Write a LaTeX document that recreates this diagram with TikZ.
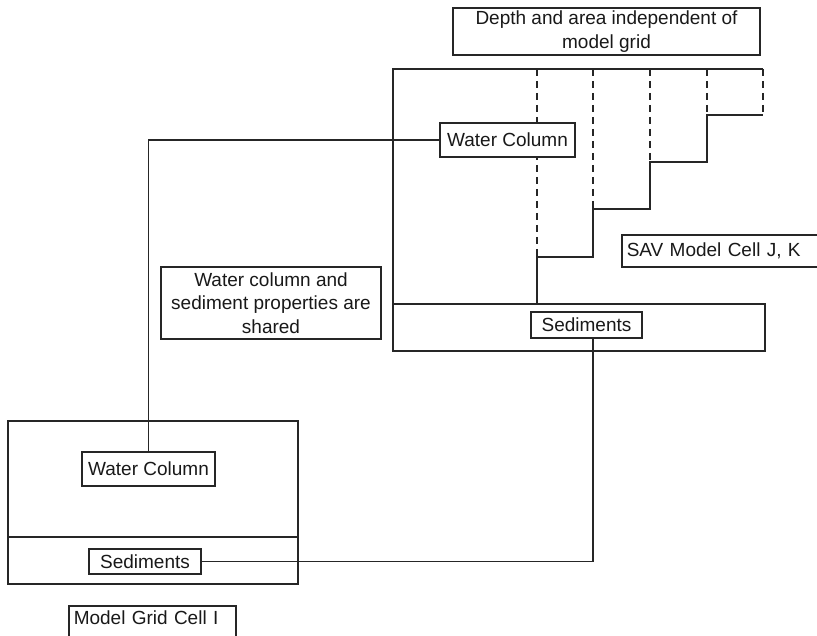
\documentclass[tikz,border=0pt]{standalone}
\usepackage{fontspec}
\setmainfont{Liberation Sans}
\usepackage{tikz}

\tikzset{
  cellbox/.style={draw,fill=white,inner sep=0pt,align=center},
  dashline/.style={dash pattern=on 7pt off 5pt}
}

\begin{document}
\begin{tikzpicture}[x=1pt,y=-1pt,line width=1.5pt,draw=black!85,
    every node/.style={font=\fontsize{19}{23.5}\selectfont,text=black!90}]
  \useasboundingbox (0,0) rectangle (817,636);
  \clip (0,0) rectangle (817,636);

  % SAV cell frame and the stepped depth profile
  \draw (393,304)
  -- (393,69)
  -- (763,69);
  \foreach \x/\y in {537/257,593/209,650/162,707/115,763/115}
    \draw[dashline] (\x,69) -- (\x,\y);
  \draw (537,304)
  -- (537,257)
  -- (593,257)
  -- (593,209)
  -- (650,209)
  -- (650,162)
  -- (707,162)
  -- (707,115)
  -- (763,115);
  \draw (393,304) rectangle (765,351);

  % model grid cell
  \draw (8,421) rectangle (298,584);
  \draw (8,537) -- (298,537);

  \node[cellbox,minimum width=307pt,minimum height=47pt] (depth) at (606.5,31.5)
    {Depth and area independent of\\model grid};
  \node[cellbox,minimum width=135pt,minimum height=34pt] (wcsav) at (507.5,140) {Water Column};
  \node[cellbox,minimum width=111pt,minimum height=26pt] (sedsav) at (586.5,325) {Sediments};
  \node[cellbox,anchor=west,text width=230pt,align=left,inner xsep=5pt,minimum height=32pt]
    (savcell) at (621,251) {SAV Model Cell J, K};
  \node[cellbox,minimum width=220pt,minimum height=72pt] (shared) at (271,303)
    {Water column and\\sediment properties are\\shared};
  \node[cellbox,minimum width=133pt,minimum height=34pt] (wcgrid) at (148.5,469) {Water Column};
  \node[cellbox,minimum width=112pt,minimum height=25pt] (sedgrid) at (145,561.5) {Sediments};
  \node[cellbox,anchor=north west,text width=157pt,align=left,inner xsep=5pt,inner ysep=5pt,
    text depth=20pt] (gridcell) at (68,605) {Model Grid Cell I};

  % shared properties
  \draw (wcsav.west) -| (wcgrid.north);
  \draw ([xshift=6.5pt]sedsav.south) |- (sedgrid.east);
\end{tikzpicture}
\end{document}
